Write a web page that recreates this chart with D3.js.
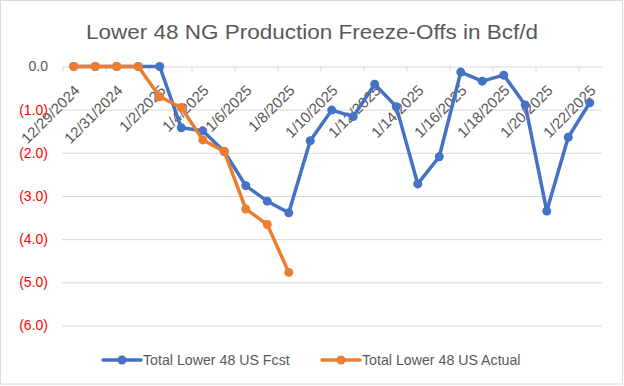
<!DOCTYPE html>
<html><head><meta charset="utf-8">
<script src="https://cdn.jsdelivr.net/npm/d3@7"></script>
<style>
html,body{margin:0;padding:0;background:#fff;}
svg{display:block;font-family:"Liberation Sans",Arial,sans-serif;}
</style></head>
<body><svg id="c" width="624" height="386"></svg>
<script>
const dates = ["12/29/2024","12/30/2024","12/31/2024","1/1/2025","1/2/2025","1/3/2025","1/4/2025","1/5/2025","1/6/2025","1/7/2025","1/8/2025","1/9/2025","1/10/2025","1/11/2025","1/12/2025","1/13/2025","1/14/2025","1/15/2025","1/16/2025","1/17/2025","1/18/2025","1/19/2025","1/20/2025","1/21/2025","1/22/2025"];
const fcst = [0,0,0,0,0,-1.42,-1.49,-1.97,-2.76,-3.12,-3.39,-1.72,-1.01,-1.16,-0.41,-0.93,-2.72,-2.09,-0.13,-0.34,-0.20,-0.89,-3.35,-1.64,-0.84];
const actual = [0,0,0,0,-0.70,-0.95,-1.70,-1.97,-3.30,-3.66,-4.77,null,null,null,null,null,null,null,null,null,null,null,null,null,null];
const yTicks = [0,-1,-2,-3,-4,-5,-6];
const seriesNames = ["Total Lower 48 US Fcst","Total Lower 48 US Actual"];
const colors = ["#4472C4","#ED7D31"];
const title = "Lower 48 NG Production Freeze-Offs in Bcf/d";

const svg = d3.select("#c");
svg.append("rect").attr("x",0.5).attr("y",0.5).attr("width",622).attr("height",383.5)
  .attr("fill","#fff").attr("stroke","#d9d9d9");

svg.append("text").attr("x",312).attr("y",38.5).attr("text-anchor","middle")
  .attr("font-size",21).attr("fill","#595959")
  .attr("textLength",452).attr("lengthAdjust","spacingAndGlyphs").text(title);

const x = d3.scaleBand().domain(dates).range([63,600.5]);
const y = d3.scaleLinear().domain([-6,0]).range([325.5,66.5]);
const cx = d => x(d) + x.bandwidth()/2;

// gridlines
const grid = svg.append("g").attr("transform","translate(62,0)")
  .call(d3.axisLeft(y).tickValues(yTicks).tickSize(-540).tickFormat(""));
grid.select(".domain").remove();
grid.selectAll("line").attr("stroke","#d9d9d9").attr("stroke-width",1);

// y labels
const fmt = v => v < 0 ? "(" + d3.format(".1f")(-v) + ")" : d3.format(".1f")(v);
const ya = svg.append("g").attr("transform","translate(48,0)")
  .call(d3.axisLeft(y).tickValues(yTicks).tickSize(0).tickPadding(0).tickFormat(fmt));
ya.select(".domain").remove();
ya.selectAll("text").attr("font-size",14).attr("font-family","Liberation Sans, Arial, sans-serif")
  .attr("fill", d => d < 0 ? "#FF0000" : "#595959");

// x axis tick marks at band starts of even categories
const evenDates = dates.filter((d,i)=> i%2===0);
svg.append("g").selectAll("line").data(evenDates).join("line")
  .attr("x1", d=>x(d)).attr("x2", d=>x(d))
  .attr("y1", y(0)).attr("y2", y(0)+5)
  .attr("stroke","#d9d9d9");

// x labels
svg.append("g").selectAll("text").data(evenDates).join("text")
  .attr("transform", d => `translate(${cx(d)-1},${y(0)+17}) rotate(-45)`)
  .attr("text-anchor","end").attr("dy","0.75em")
  .attr("font-size",15).attr("fill","#595959").text(d=>d);

// lines
const line = d3.line().defined(d=>d.v!==null).x(d=>cx(d.d)).y(d=>y(d.v));
[fcst, actual].forEach((arr,si)=>{
  const pts = dates.map((d,i)=>({d, v: arr[i]}));
  svg.append("path").datum(pts).attr("d", line).attr("fill","none")
    .attr("stroke", colors[si]).attr("stroke-width",3.5).attr("stroke-linejoin","round").attr("stroke-linecap","round");
  svg.append("g").selectAll("circle").data(pts.filter(p=>p.v!==null)).join("circle")
    .attr("cx", p=>cx(p.d)).attr("cy", p=>y(p.v)).attr("r",4.5).attr("fill", colors[si]);
});

// legend
const legX = [103, 322];
seriesNames.forEach((n,i)=>{
  const g = svg.append("g").attr("transform",`translate(${legX[i]},360)`);
  g.append("line").attr("x1",0).attr("x2",38).attr("y1",0).attr("y2",0)
    .attr("stroke",colors[i]).attr("stroke-width",3.5).attr("stroke-linecap","round");
  g.append("circle").attr("cx",19).attr("cy",0).attr("r",4.5).attr("fill",colors[i]);
  g.append("text").attr("x",40).attr("y",0).attr("dy","0.35em").attr("font-size",14.2)
    .attr("fill","#595959").text(n);
});
</script></body></html>
